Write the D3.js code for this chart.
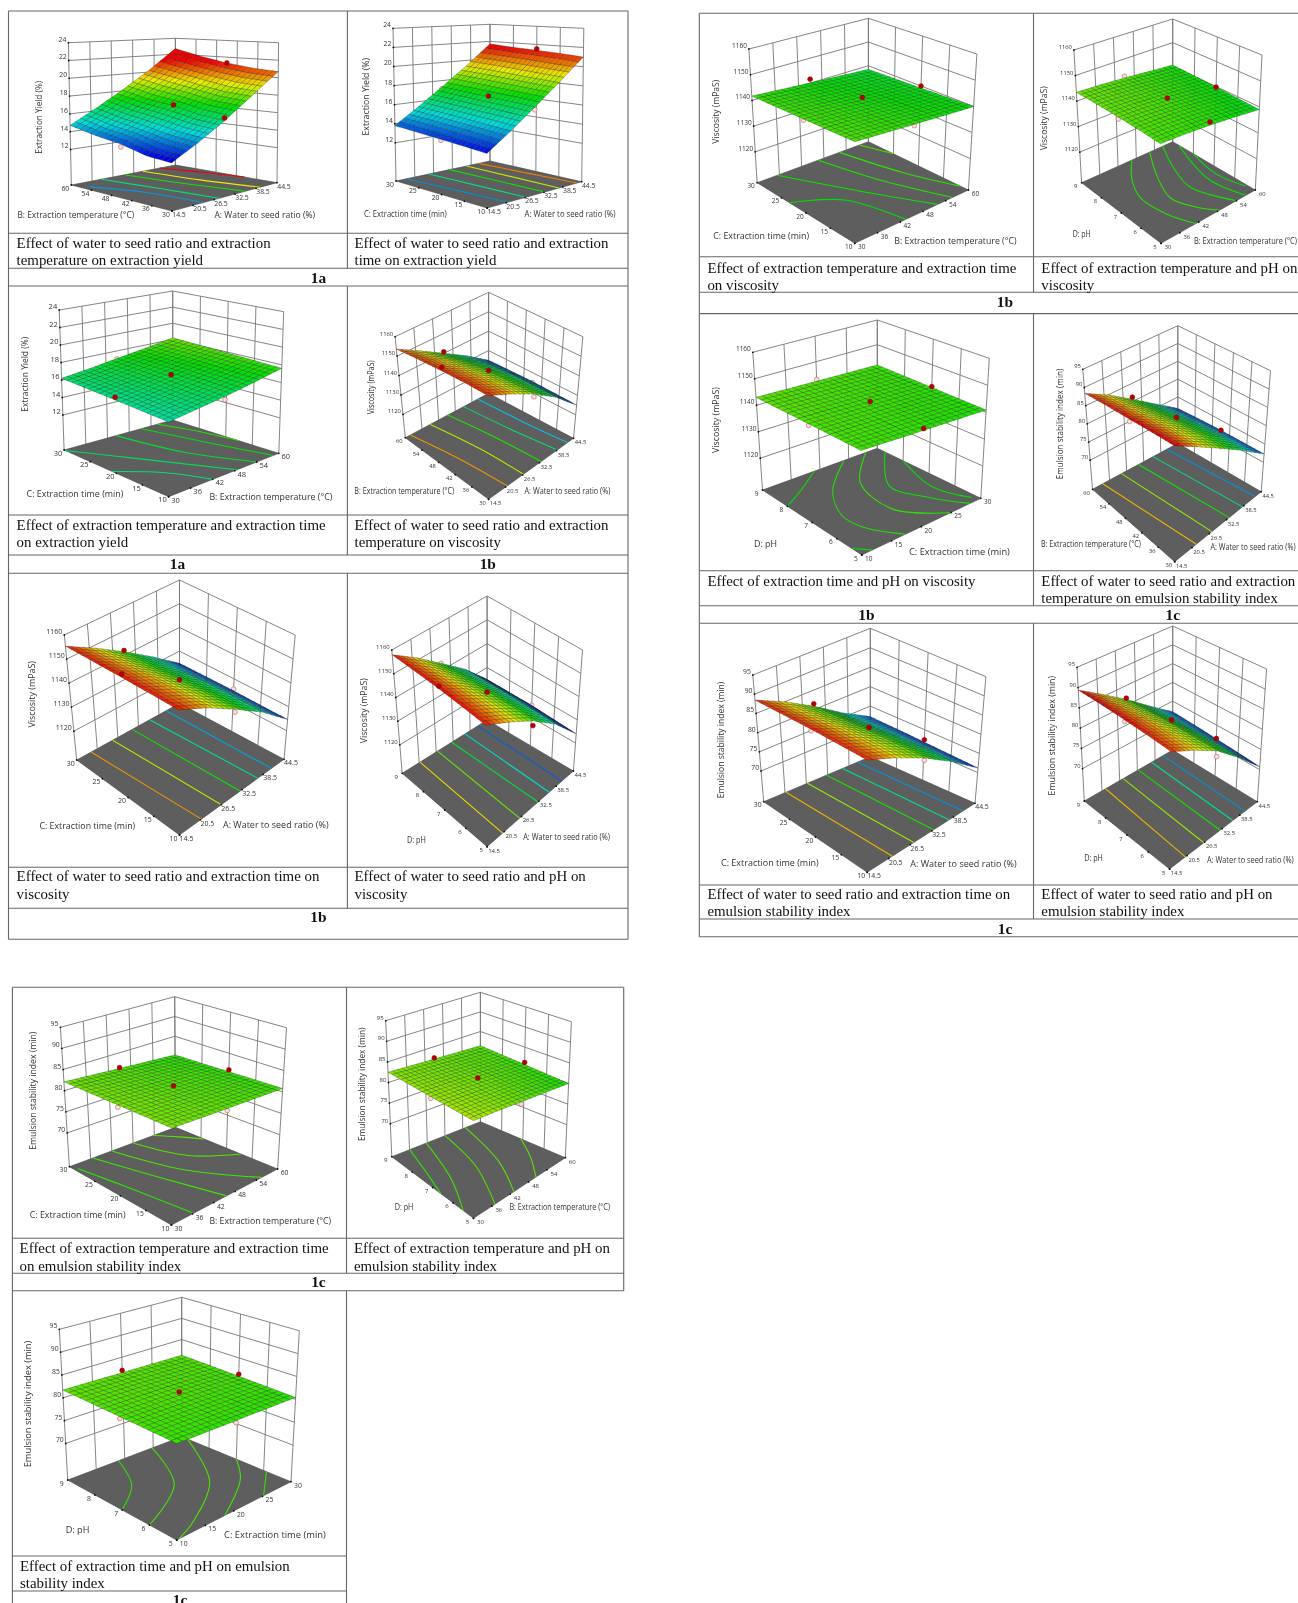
<!DOCTYPE html>
<html>
<head>
<meta charset="utf-8">
<script src="https://cdn.jsdelivr.net/npm/d3@7"></script>
<style>
  html, body { margin: 0; padding: 0; background: #fff; overflow: hidden; }
  svg { display: block; filter: blur(0.35px); }
  .cap { font-family: "Liberation Serif", serif; font-size: 14.9px; fill: #111; }
  .lab { font-family: "Liberation Serif", serif; font-size: 15.4px; font-weight: bold; fill: #111; text-anchor: middle; }
  .tick { font-family: "Open Sans", sans-serif; fill: #333; }
  .title { font-family: "Open Sans", sans-serif; fill: #333; }
</style>
</head>
<body>
<div id="chart"></div>
<script>
// axis ticks
const ticksA = [14.5, 20.5, 26.5, 32.5, 38.5, 44.5]
const ticksB = [30, 36, 42, 48, 54, 60]
const ticksC = [10, 15, 20, 25, 30]
const ticksD = [5, 6, 7, 8, 9]
const ticksYield = [12, 14, 16, 18, 20, 22, 24]
const ticksVisc = [1120, 1130, 1140, 1150, 1160]
const ticksEmul = [70, 75, 80, 85, 90, 95]

const nameA = "A: Water to seed ratio (%)"
const nameB = "B: Extraction temperature (°C)"
const nameC = "C: Extraction time (min)"
const nameD = "D: pH"
const nameYield = "Extraction Yield (%)"
const nameVisc = "Viscosity (mPaS)"
const nameEmul = "Emulsion stability index (min)"

// response values read at 5 x 5 nodes, row = second factor low to high
const surfYieldAB = [[12.8,14.3,16.1,18.3,20.7],[13.0,14.6,16.4,18.5,20.9],[13.7,15.1,17.0,19.0,21.3],[14.1,15.6,17.4,19.6,21.9],[14.7,16.3,18.1,20.2,22.7]]
const surfYieldAC = [[13.0,14.65,16.55,18.65,21.0],[13.2,14.85,16.75,18.8,21.2],[13.4,15.05,16.9,19.0,21.35],[13.6,15.25,17.1,19.2,21.5],[13.8,15.45,17.3,19.35,21.7]]
const surfYieldBC = [[15.6,16.0,16.4,16.95,17.6],[15.75,16.15,16.6,17.1,17.75],[15.9,16.3,16.8,17.3,17.9],[16.05,16.45,16.95,17.45,18.05],[16.2,16.6,17.1,17.6,18.2]]
const surfViscAB = [[1155,1150,1144,1136,1125],[1155.2,1150,1143.6,1135.8,1125.3],[1155,1149.5,1143,1135.5,1125.5],[1154.5,1148.5,1141.8,1134.5,1125.3],[1153.6,1147,1140,1133,1125]]
const surfViscAC = [[1155.4,1150,1143,1135,1124.7],[1155.5,1150,1143,1135,1124.8],[1155.6,1149.8,1142.5,1134.8,1125],[1155.5,1149.3,1141.8,1134,1125],[1155.4,1148.8,1141.5,1133.5,1124.9]]
const surfViscAD = [[1158,1152,1145,1136,1124],[1158.3,1152,1145,1136,1124.5],[1158.5,1152,1144.5,1135.8,1125],[1158.3,1151.5,1143.8,1135.5,1125],[1158,1151,1143,1135,1125]]
const surfViscBC = [[1142.4,1141.8,1141.2,1140.5,1139.9],[1142.2,1141.7,1141,1140.2,1139.55],[1142.05,1141.5,1140.7,1139.9,1139.2],[1141.9,1141.2,1140.4,1139.6,1138.85],[1141.7,1140.9,1140.1,1139.3,1138.5]]
const surfViscBD = [[1142,1141.7,1141.1,1140.2,1139],[1142.6,1142.3,1141.7,1140.7,1139.4],[1143,1142.7,1142,1141,1139.8],[1143.3,1142.9,1142.2,1141.2,1140.2],[1143.4,1143,1142.3,1141.4,1140.5]]
const surfViscCD = [[1142,1141.7,1141.4,1141.1,1140.8],[1142.25,1142,1141.7,1141.35,1141.05],[1142.5,1142.2,1141.9,1141.6,1141.3],[1142.75,1142.45,1142.15,1141.85,1141.55],[1143,1142.7,1142.4,1142.1,1141.8]]
const surfEmulAB = [[89.7,86,82,77.5,72.3],[89.5,86,82.1,77.6,72.3],[89.2,85.8,81.8,77.3,72.3],[88.9,85.4,81.2,76.8,72.1],[88.4,84.9,80.6,76.2,71.8]]
const surfEmulAC = [[88.5,85.5,81.8,77,71.2],[88.6,85.6,81.8,77,71.5],[88.7,85.5,81.6,76.8,71.8],[88.6,85.2,81.2,76.5,72.1],[88.5,85,80.9,76.2,72.3]]
const surfEmulAD = [[88.4,85.5,82,76.8,70.7],[88.8,85.8,82,77,71.1],[89.1,86,82,77,71.5],[89.3,85.8,81.8,76.9,71.9],[89.4,85.6,81.5,76.8,72.2]]
const surfEmulBC = [[82.3,81.9,81.55,81.2,80.8],[82.25,81.9,81.55,81.15,80.7],[82.2,81.85,81.45,81.05,80.55],[82.15,81.75,81.35,80.95,80.4],[82.1,81.65,81.2,80.75,80.3]]
const surfEmulBD = [[83.5,82.8,81.9,81,80],[83.25,82.7,82,81.2,80.35],[83,82.55,82,81.35,80.7],[82.75,82.35,81.95,81.45,81.05],[82.5,82.2,81.95,81.65,81.4]]
const surfEmulCD = [[80.7,80.6,80.55,80.5,80.4],[80.95,80.95,80.9,80.8,80.65],[81.2,81.2,81.25,81.1,80.85],[81.45,81.45,81.4,81.25,81.1],[81.7,81.6,81.5,81.4,81.3]]

// design points: factor 1, factor 2, response, 1 = above the surface
const dotsYieldAB = [[29.5,45,17.1,1],[44.5,45,21.3,1],[29.5,30,16.4,1],[14.5,45,13.4,0]]
const dotsYieldAC = [[29.5,20,17.0,1],[44.5,20,21.5,1],[29.5,10,16.3,0],[14.5,20,13.3,0],[29.5,30,17.1,0]]
const dotsYieldBC = [[45,20,17.05,1],[30,20,16.2,1],[45,30,17.05,0],[45,10,16.05,0]]
const dotsViscAB = [[29.5,45,1143.6,1],[29.5,60,1140.8,1],[14.5,45,1156.8,1],[44.5,45,1125,0],[29.5,30,1142.6,0]]
const dotsViscAC = [[29.5,20,1142.5,1],[29.5,30,1142,1],[14.5,20,1157,1],[44.5,20,1125.7,0],[29.5,10,1141.8,0]]
const dotsViscAD = [[29.5,7,1144,1],[29.5,9,1143,0],[14.5,7,1159.6,1],[44.5,7,1125,0],[29.5,5,1143,1]]
const dotsViscBC = [[45,20,1143,1],[45,30,1141.6,1],[60,20,1140,1],[30,20,1141.6,0],[45,10,1140.7,0]]
const dotsViscBD = [[45,7,1143,1],[60,7,1139.8,1],[45,5,1142.3,1],[30,7,1142.3,0],[45,9,1143,0]]
const dotsViscCD = [[20,7,1143.4,1],[30,7,1141.6,1],[20,5,1142,1],[10,7,1141.9,0],[20,9,1143,0]]
const dotsEmulAB = [[29.5,45,83,1],[29.5,60,81.2,1],[44.5,45,72.3,1],[14.5,45,88.6,0],[29.5,30,82.4,0]]
const dotsEmulAC = [[29.5,20,82.5,1],[29.5,30,81.5,1],[44.5,20,72.4,1],[14.5,20,88.3,0],[29.5,10,81.2,0]]
const dotsEmulAD = [[29.5,7,83,1],[29.5,9,81.8,1],[44.5,7,71.6,1],[14.5,7,88.7,0],[29.5,5,80.6,0]]
const dotsEmulBC = [[45,20,82,1],[45,30,81.4,1],[60,20,81,1],[30,20,81.7,0],[45,10,81.1,0]]
const dotsEmulBD = [[45,7,82.5,1],[45,9,82.2,1],[60,7,81.2,1],[30,7,82.6,0],[45,5,81.4,0]]
const dotsEmulCD = [[20,7,82,1],[20,9,82,1],[30,7,81.3,1],[10,7,80.8,0],[20,5,80.1,0]]

// floor contours: level, then points in factor units
const contYieldAB = [[14.4,[16.3,56.4],[21.4,45.3],[23.5,30]],[16,[23.2,60],[25.9,45],[28,30]],[17.5,[29.8,60],[32.5,45],[35.5,30]],[19.3,[35.2,60],[37,45],[39.7,30]],[21.5,[40,60],[42.7,49.5],[44.5,39.6]]]
const contYieldAC = [[14.3,[21.1,10],[17.8,30]],[15.9,[26.8,10],[25,30]],[17.4,[32.8,10],[31.6,30]],[18.9,[37.3,10],[37,30]],[20.3,[43,10],[40.9,30]]]
const contYieldBC = [[16,[30,20.8],[37.4,16.2],[42,10]],[16.4,[30,29.8],[39.2,21.4],[48.6,10]],[16.8,[44.4,30],[47.9,19.7],[54,10]],[17.2,[51.3,30],[55.5,19],[58.5,10]],[17.6,[55.8,30],[58.5,24.4],[60,17.5]]]
const contViscAB = [[1151,[16.3,60],[19.5,45],[21.1,30]],[1146,[23.5,60],[26,45],[26.8,30]],[1141,[29.8,60],[32,45],[33.1,30]],[1136,[35.5,60],[37,45],[38.8,30]],[1131,[40.6,60],[41.3,45],[42.4,30]]]
const contViscAC = [[1151,[20.8,10],[18.7,30]],[1146,[26.5,10],[25,30]],[1140.5,[31.9,10],[30.7,30]],[1135,[37,10],[35.8,30]],[1130,[40.9,10],[40.6,30]]]
const contViscAD = [[1151,[19.9,5],[20.8,9]],[1146,[25.8,5],[27,9]],[1140.5,[32.2,5],[32,9]],[1135,[36.1,5],[36.7,9]],[1130,[40.5,5],[41.2,9]]]
const contViscBC = [[1140,[30,23.4],[39.5,19.3],[43.5,10]],[1140.5,[35.4,30],[44.2,19.8],[51.9,10]],[1141,[46.5,30],[50.5,20],[55.8,10]],[1141.5,[52.2,30],[55.8,20],[60,11.6]],[1142,[57.6,30],[60,25]]]
const contViscBD = [[1141,[46.5,9],[40.7,8.1],[37.6,7.2],[38.3,6],[41.1,5]],[1141.5,[52.4,9],[46.8,7.8],[43.2,6.6],[45.6,5.6],[48.6,5]],[1140.5,[56.7,9],[52.2,7.8],[49.7,6.6],[54,5]],[1140,[60,8.7],[55.2,6.55],[57,5]],[1139.5,[60,8],[58,6.6],[59.5,5.4]]]
const contViscCD = [[1140,[19,9],[14,8.4],[10,8]],[1141,[24.2,9],[17.4,7.9],[14.2,6.8],[14.4,6],[17.3,5]],[1141.5,[28,9],[21.7,7.8],[20.2,6.2],[24.9,5]],[1140.5,[30,8.7],[24,7.2],[25.6,6],[28.2,5]],[1140,[30,8],[27.8,6.4],[29.4,5.2]],[1140,[10,5.4],[11.8,5]]]
const contEmulAB = [[86,[22,30],[18.1,60]],[83,[27.4,30],[24.7,60]],[80,[33.4,30],[30.7,60]],[77,[38,30],[35.8,60]],[74,[42.4,30],[40.6,60]]]
const contEmulAC = [[86,[21.5,10],[20.8,30]],[83,[27.5,10],[26.8,30]],[80,[33,10],[32.2,30]],[77,[37.3,10],[36.7,30]],[74,[41.2,10],[40.9,30]]]
const contEmulAD = [[86,[19.9,5],[21.7,9]],[83,[26.2,5],[27.7,9]],[80,[31.8,5],[32.8,9]],[77,[36.1,5],[37.3,9]],[74,[40.3,5],[41.2,9]]]
const contEmulBC = [[80.5,[30.9,29],[33.8,20.2],[36.3,10]],[81,[36.6,30],[41.4,20],[45.6,10]],[81.2,[42,30],[47.2,19.5],[55.5,10]],[81.4,[48,30],[52.2,22.2],[60,17.2]],[81.6,[53.7,30],[57,27.4],[60,24.4]]]
const contEmulBD = [[80.5,[36,9],[33,7.8],[30,6.6]],[81,[41.7,9],[36,7],[30,5.5]],[81.2,[48,9],[43.8,6.9],[37,5]],[81.4,[54.9,9],[49.2,6.6],[43.2,5]],[81.6,[60,7.1],[55.5,6],[50.4,5]]]
const contEmulCD = [[80.5,[18.9,9],[15.5,7.8],[10,7]],[81,[24.8,9],[19.6,7.1],[10,6]],[81.2,[30,8.8],[23.4,6.6],[15,5.4],[10.4,5]],[81,[30,7],[26.4,6.1],[18.4,5]],[80.5,[30,5.9],[25.2,5]]]

const captions = [
  [16.6, 248, "Effect of water to seed ratio and extraction"], [16.6, 265, "temperature on extraction yield"],
  [354.5, 248, "Effect of water to seed ratio and extraction"], [354.5, 265, "time on extraction yield"],
  [16.6, 530, "Effect of extraction temperature and extraction time"], [16.6, 547, "on extraction yield"],
  [354.5, 530, "Effect of water to seed ratio and extraction"], [354.5, 547, "temperature on viscosity"],
  [16.6, 881, "Effect of water to seed ratio and extraction time on"], [16.6, 898.5, "viscosity"],
  [354.5, 881, "Effect of water to seed ratio and pH on"], [354.5, 898.5, "viscosity"],
  [707.4, 272.5, "Effect of extraction temperature and extraction time"], [707.4, 290, "on viscosity"],
  [1041.3, 272.5, "Effect of extraction temperature and pH on"], [1041.3, 290, "viscosity"],
  [707.4, 585.5, "Effect of extraction time and pH on viscosity"],
  [1041.3, 585.5, "Effect of water to seed ratio and extraction"], [1041.3, 603, "temperature on emulsion stability index"],
  [707.4, 899, "Effect of water to seed ratio and extraction time on"], [707.4, 916, "emulsion stability index"],
  [1041.3, 899, "Effect of water to seed ratio and pH on"], [1041.3, 916, "emulsion stability index"],
  [19.6, 1253, "Effect of extraction temperature and extraction time"], [19.6, 1270.5, "on emulsion stability index"],
  [353.9, 1253, "Effect of extraction temperature and pH on"], [353.9, 1270.5, "emulsion stability index"],
  [20, 1571, "Effect of extraction time and pH on emulsion"], [20, 1588, "stability index"]
]
const rowLabels = [
  [318.4, 283, "1a"], [177.5, 569, "1a"], [487.8, 569, "1b"], [318.4, 922, "1b"],
  [1005, 307, "1b"], [866.4, 619.5, "1b"], [1172.8, 619.5, "1c"], [1005, 933.5, "1c"],
  [318.4, 1287, "1c"], [180, 1605, "1c"]
]
// table rules: x1, y1, x2, y2
const rules = [
  [8.5,11,628,11],[8.5,233.3,628,233.3],[8.5,268.3,628,268.3],[8.5,286,628,286],[8.5,515,628,515],[8.5,555,628,555],
  [8.5,573.3,628,573.3],[8.5,867.3,628,867.3],[8.5,908.3,628,908.3],[8.5,939.3,628,939.3],
  [8.5,11,8.5,939.3],[628,11,628,939.3],[347.4,11,347.4,268.3],[347.4,286,347.4,555],[347.4,573.3,347.4,908.3],
  [699.3,13.3,1298,13.3],[699.3,256.7,1298,256.7],[699.3,292.3,1298,292.3],[699.3,313.6,1298,313.6],[699.3,570.7,1298,570.7],
  [699.3,605.7,1298,605.7],[699.3,623.3,1298,623.3],[699.3,885,1298,885],[699.3,919,1298,919],[699.3,936.7,1298,936.7],
  [699.3,13.3,699.3,936.7],[1033.5,13.3,1033.5,292.3],[1033.5,313.6,1033.5,605.7],[1033.5,623.3,1033.5,919],
  [12.4,987.3,623.7,987.3],[12.4,1238.3,623.7,1238.3],[12.4,1273.3,623.7,1273.3],[12.4,1290.7,623.7,1290.7],
  [12.4,1556,346.5,1556],[12.4,1591,346.5,1591],
  [12.4,987.3,12.4,1603],[623.7,987.3,623.7,1290.7],[346.5,987.3,346.5,1273.3],[346.5,1290.7,346.5,1603]
]

const colorYield = d3.scaleLinear().domain([13, 15, 17.3, 19.3, 21.4])
const colorVisc = d3.scaleLinear().domain([1124, 1132, 1140, 1148, 1156])
const colorEmul = d3.scaleLinear().domain([71, 75.5, 79.5, 85, 89])
const rainbow = ["#0000e0", "#00dcdc", "#00e000", "#ecec00", "#f00000"]
;[colorYield, colorVisc, colorEmul].forEach(c => c.range(rainbow).clamp(true))

const respYield = {ticks: ticksYield, name: nameYield, floor: 8, top: 24, color: colorYield}
const respVisc = {ticks: ticksVisc, name: nameVisc, floor: 1108, top: 1160, color: colorVisc}
const respEmul = {ticks: ticksEmul, name: nameEmul, floor: 62, top: 95, color: colorEmul}

// floor corners L F R B, wall tops Lt Bt Rt, k = front edge stretch, fs = tick size
// xt, yt: title start x, baseline, width; zt: centre x, centre y, length
const panels = [
  {r: respYield, xs: ticksA, ys: ticksB, xn: nameA, yn: nameB, surf: surfYieldAB, dots: dotsYieldAB, cont: contYieldAB,
   L: [71.3,185], F: [172,211], R: [277,182.7], B: [175.4,165], Lt: [68.4,42.7], Bt: [175.4,38.3], Rt: [278.6,42.7], k: 1.03, fs: 6.8,
   xt: [214.4,218,100.8], yt: [17.4,217.5,117], zt: [41.5,117.3,73]},
  {r: respYield, xs: ticksA, ys: ticksC, xn: nameA, yn: nameC, surf: surfYieldAC, dots: dotsYieldAC, cont: contYieldAC,
   L: [396,181], F: [487.2,208], R: [581.7,181.7], B: [490,161], Lt: [393,28.3], Bt: [490,24.3], Rt: [583.8,28.3], k: 1.03, fs: 6.8,
   xt: [524.5,216.5,91], yt: [364,216.5,83], zt: [369,96.7,77.7]},
  {r: respYield, xs: ticksB, ys: ticksC, xn: nameB, yn: nameC, surf: surfYieldBC, dots: dotsYieldBC, cont: contYieldBC,
   L: [64.1,450], F: [168.6,496.7], R: [278.8,453.3], B: [172.7,420], Lt: [59.2,310], Bt: [172.7,291], Rt: [283.7,311.7], k: 1.03, fs: 7.5,
   xt: [209.4,499.5,123], yt: [26.5,496.5,97], zt: [27.8,374.3,75]},
  {r: respVisc, xs: ticksA, ys: ticksB, xn: nameA, yn: nameB, surf: surfViscAB, dots: dotsViscAB, cont: contViscAB,
   L: [405.3,437.7], F: [488.6,499.3], R: [573.5,438.3], B: [488.6,393.3], Lt: [395.1,336.7], Bt: [488.6,292.3], Rt: [582.9,336.7], k: 1.13, fs: 5.8,
   xt: [524.5,493.7,86], yt: [354.3,493.7,100], zt: [373.5,387.3,54]},
  {r: respVisc, xs: ticksA, ys: ticksC, xn: nameA, yn: nameC, surf: surfViscAC, dots: dotsViscAC, cont: contViscAC,
   L: [76.7,760], F: [179.5,835], R: [284,759.3], B: [179.5,703.3], Lt: [64.3,635], Bt: [179.5,580], Rt: [295.2,635], k: 1.09, fs: 7,
   xt: [223,827.5,105.7], yt: [39.4,829,96], zt: [35.2,694.3,66.7]},
  {r: respVisc, xs: ticksA, ys: ticksD, xn: nameA, yn: nameD, surf: surfViscAD, dots: dotsViscAD, cont: contViscAD, shift: 2.5,
   L: [402.2,773.3], F: [487.1,846.7], R: [573.4,771], B: [487.1,720], Lt: [391.8,650], Bt: [487.1,596], Rt: [582.5,650], k: 1.05, fs: 6,
   xt: [523.2,839.7,87], yt: [407,843,19], zt: [367,710.7,65]},
  {r: respVisc, xs: ticksB, ys: ticksC, xn: nameB, yn: nameC, surf: surfViscBC, dots: dotsViscBC, cont: contViscBC,
   L: [757.1,182.7], F: [854.8,243.3], R: [968.4,190], B: [868.4,141.7], Lt: [748.9,49], Bt: [868.4,18.3], Rt: [976.9,54], k: 1.05, fs: 6.5,
   xt: [894.3,243.5,122.5], yt: [713.3,238.5,96], zt: [719,111.7,64]},
  {r: respVisc, xs: ticksB, ys: ticksD, xn: nameB, yn: nameD, surf: surfViscBD, dots: dotsViscBD, cont: contViscBD,
   L: [1081.6,182.7], F: [1161,243.3], R: [1255.3,190], B: [1172.7,141.7], Lt: [1073.9,50], Bt: [1172.7,19], Rt: [1262,55], k: 1.05, fs: 5.8,
   xt: [1194,243.7,103], yt: [1072.7,236.5,18], zt: [1046.7,118.3,64]},
  {r: respVisc, xs: ticksC, ys: ticksD, xn: nameC, yn: nameD, surf: surfViscCD, dots: dotsViscCD, cont: contViscCD,
   L: [762.5,490], F: [861.8,555], R: [980.8,498.3], B: [877.3,448.3], Lt: [752.8,352.3], Bt: [877.3,320], Rt: [989.3,358.3], k: 1.07, fs: 6.5,
   xt: [909,555,101], yt: [754,546.5,23], zt: [719,420,66]},
  {r: respEmul, xs: ticksA, ys: ticksB, xn: nameA, yn: nameB, surf: surfEmulAB, dots: dotsEmulAB, cont: contEmulAB,
   L: [1092.5,489.3], F: [1174.7,561.7], R: [1261.2,491.7], B: [1177.8,443.3], Lt: [1082.8,369.3], Bt: [1177.8,325.7], Rt: [1270.5,370.7], k: 1.12, fs: 5.8,
   xt: [1210.4,549.7,85.3], yt: [1041,547.3,100], zt: [1063,424,110.7]},
  {r: respEmul, xs: ticksA, ys: ticksC, xn: nameA, yn: nameC, surf: surfEmulAC, dots: dotsEmulAC, cont: contEmulAC,
   L: [763.7,801.7], F: [867.2,872.3], R: [975,803.3], B: [870.3,756.7], Lt: [752.8,675], Bt: [870.3,628.3], Rt: [985.9,676.7], k: 1.12, fs: 6.8,
   xt: [910.2,867,106.6], yt: [721,865.7,97.7], zt: [724,740,116.7]},
  {r: respEmul, xs: ticksA, ys: ticksD, xn: nameA, yn: nameD, surf: surfEmulAD, dots: dotsEmulAD, cont: contEmulAD,
   L: [1084.3,801], F: [1169.6,869], R: [1257.3,801.7], B: [1172.7,750], Lt: [1077,667.3], Bt: [1172.7,626], Rt: [1266.6,669], k: 1.03, fs: 5.8,
   xt: [1206.9,863,87], yt: [1084.3,860.7,18.6], zt: [1055.3,735.7,120]},
  {r: respEmul, xs: ticksB, ys: ticksC, xn: nameB, yn: nameC, surf: surfEmulBC, dots: dotsEmulBC, cont: contEmulBC,
   L: [69.4,1166.7], F: [171.4,1225], R: [277.6,1169], B: [175.5,1127.3], Lt: [60.4,1027.3], Bt: [174.7,996.7], Rt: [286.5,1027.7], k: 1.05, fs: 6.8,
   xt: [209.4,1223.7,122], yt: [29.8,1218.3,96], zt: [35.5,1090.7,118.3]},
  {r: respEmul, xs: ticksB, ys: ticksD, xn: nameB, yn: nameD, surf: surfEmulBD, dots: dotsEmulBD, cont: contEmulBD,
   L: [391.8,1156.7], F: [473.5,1218.3], R: [565.3,1157.7], B: [480.4,1121.7], Lt: [385.7,1020.7], Bt: [480.4,992.3], Rt: [571.4,1021.7], k: 1.05, fs: 6,
   xt: [509.4,1210.3,100.8], yt: [394.7,1210.3,18.8], zt: [364.5,1084.3,113.7]},
  {r: respEmul, xs: ticksC, ys: ticksD, xn: nameC, yn: nameD, surf: surfEmulCD, dots: dotsEmulCD, cont: contEmulCD,
   L: [67.7,1480], F: [176.7,1540], R: [291,1481.7], B: [181.7,1436.7], Lt: [59.3,1329.3], Bt: [181.7,1297.3], Rt: [299.3,1330.7], k: 1.05, fs: 6.8,
   xt: [224,1538.3,102], yt: [65.7,1533.3,23.7], zt: [30.7,1404,126.7]}
]

const svg = d3.select("#chart").append("svg").attr("width", 1298).attr("height", 1603)

svg.append("g").selectAll("line").data(rules).join("line")
  .attr("x1", d => d[0]).attr("y1", d => d[1]).attr("x2", d => d[2]).attr("y2", d => d[3])
  .attr("stroke", "#666").attr("stroke-width", 1.1)

svg.append("g").selectAll("text").data(captions).join("text").attr("class", "cap")
  .attr("x", d => d[0]).attr("y", d => d[1]).text(d => d[2])
svg.append("g").selectAll("text").data(rowLabels).join("text").attr("class", "lab")
  .attr("x", d => d[0]).attr("y", d => d[1]).text(d => d[2])

const mix = (p, q, t) => [p[0] + (q[0] - p[0]) * t, p[1] + (q[1] - p[1]) * t]

function drawPanel(p) {
  const g = svg.append("g")
  const sx = d3.scaleLinear().domain(d3.extent(p.xs)).range([0, 1])
  const sy = d3.scaleLinear().domain(d3.extent(p.ys)).range([0, 1])
  const sz = d3.scaleLinear().domain([p.r.floor, p.r.top]).range([0, 1])
  const color = z => p.r.color(z - (p.shift || 0))

  // the front top corner is not drawn in the plots, so work it out from the others
  const hL = p.L[1] - p.Lt[1], hR = p.R[1] - p.Rt[1], hB = p.B[1] - p.Bt[1]
  const Ft = [p.F[0] + (p.Lt[0] - p.L[0]) + (p.Rt[0] - p.R[0]) - (p.Bt[0] - p.B[0]), p.F[1] - (hL + hR - hB) * p.k]

  const project = (x, y, z) => {
    const u = sx(x), v = sy(y), w = sz(z)
    const lo = mix(mix(p.F, p.R, u), mix(p.L, p.B, u), v)
    const hi = mix(mix(Ft, p.Rt, u), mix(p.Lt, p.Bt, u), v)
    return mix(lo, hi, w)
  }
  const [x0, x1] = d3.extent(p.xs), [y0, y1] = d3.extent(p.ys)
  const zb = p.r.floor, zt = p.r.top

  // walls
  const wall = []
  p.xs.forEach(x => wall.push([project(x, y1, zb), project(x, y1, zt)]))
  p.ys.forEach(y => wall.push([project(x1, y, zb), project(x1, y, zt)]))
  p.r.ticks.forEach(z => {
    wall.push([project(x0, y1, z), project(x1, y1, z)])
    wall.push([project(x1, y1, z), project(x1, y0, z)])
  })
  g.append("g").selectAll("line").data(wall).join("line")
    .attr("x1", d => d[0][0]).attr("y1", d => d[0][1]).attr("x2", d => d[1][0]).attr("y2", d => d[1][1])
    .attr("stroke", "#777").attr("stroke-width", 0.9)

  // floor
  g.append("path")
    .attr("d", d3.line()([project(x0, y0, zb), project(x1, y0, zb), project(x1, y1, zb), project(x0, y1, zb)]) + "Z")
    .attr("fill", "#5e5e5e").attr("stroke", "#444").attr("stroke-width", 0.6)

  // floor contours
  const contour = d3.line().curve(d3.curveCatmullRom.alpha(0.5))
  g.append("g").selectAll("path").data(p.cont).join("path")
    .attr("d", d => contour(d.slice(1).map(q => project(q[0], q[1], zb))))
    .attr("fill", "none").attr("stroke", d => color(d[0])).attr("stroke-width", 1.1)

  // points below the surface are drawn before it
  const dot = (sel, up) => sel.selectAll("circle").data(p.dots.filter(d => d[3] === up)).join("circle")
    .attr("cx", d => project(d[0], d[1], d[2])[0]).attr("cy", d => project(d[0], d[1], d[2])[1])
    .attr("r", 2.4)
    .attr("fill", up ? "#b80000" : "#fbdcdc").attr("stroke", up ? "#8a0000" : "#c06060").attr("stroke-width", 0.6)
  dot(g.append("g"), 0)

  // surface: the 5 x 5 read nodes, each cell split in 4 x 4 facets for the mesh
  const n = 20, cells = []
  const at = (a, b) => {
    const i = Math.min(3, Math.floor(b * 4)), j = Math.min(3, Math.floor(a * 4))
    const t = b * 4 - i, s = a * 4 - j
    return d3.interpolateNumber(
      d3.interpolateNumber(p.surf[i][j], p.surf[i][j + 1])(s),
      d3.interpolateNumber(p.surf[i + 1][j], p.surf[i + 1][j + 1])(s))(t)
  }
  const pt = (i, j) => {
    const a = i / n, b = j / n
    return project(x0 + (x1 - x0) * a, y0 + (y1 - y0) * b, at(a, b))
  }
  for (let j = n - 1; j >= 0; j--) {
    for (let i = n - 1; i >= 0; i--) {
      cells.push({
        poly: [pt(i, j), pt(i + 1, j), pt(i + 1, j + 1), pt(i, j + 1)],
        z: at((i + 0.5) / n, (j + 0.5) / n)
      })
    }
  }
  g.append("g").selectAll("path").data(cells).join("path")
    .attr("d", d => d3.line()(d.poly) + "Z")
    .attr("fill", d => color(d.z))
    .attr("stroke", "#1a1a1a").attr("stroke-opacity", 0.6).attr("stroke-width", 0.45)

  dot(g.append("g"), 1)

  // tick marks
  const marks = []
  p.xs.forEach(x => marks.push(project(x, y0, zb)))
  p.ys.forEach(y => marks.push(project(x0, y, zb)))
  p.r.ticks.forEach(z => marks.push(project(x0, y1, z)))
  g.append("g").selectAll("circle").data(marks).join("circle")
    .attr("cx", d => d[0]).attr("cy", d => d[1]).attr("r", 0.9).attr("fill", "#111")

  const tickText = (sel, list, place, anchor, dx, dy) => sel.selectAll("text").data(list).join("text")
    .attr("class", "tick").attr("font-size", p.fs).attr("text-anchor", anchor)
    .attr("x", d => place(d)[0] + dx).attr("y", d => place(d)[1] + dy).text(d => d)
  tickText(g.append("g"), p.xs, d => project(d, y0, zb), "middle", 7, 6)
  tickText(g.append("g"), p.ys, d => project(x0, d, zb), "middle", -6, 5.5)
  tickText(g.append("g"), p.r.ticks, d => project(x0, y1, d), "end", -2, -1)

  // titles are squeezed sideways to the width they have in the plots
  const title = (name, anchor, place, len) => {
    const t = g.append("text").attr("class", "title").attr("font-size", 9.5).attr("text-anchor", anchor).text(name)
    const natural = t.node().getComputedTextLength()
    t.attr("transform", `${place} scale(${len / natural},1)`)
  }
  title(p.xn, "start", `translate(${p.xt[0]},${p.xt[1]})`, p.xt[2])
  title(p.yn, "start", `translate(${p.yt[0]},${p.yt[1]})`, p.yt[2])
  title(p.r.name, "middle", `translate(${p.zt[0]},${p.zt[1]}) rotate(-90)`, p.zt[2])
}

panels.forEach(drawPanel)
</script>
</body>
</html>
